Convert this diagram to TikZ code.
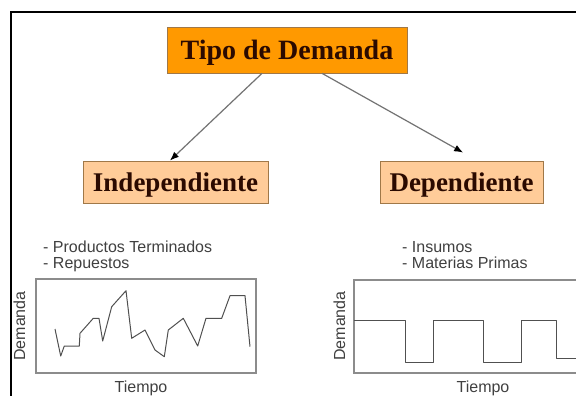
\documentclass[tikz,border=0pt]{standalone}
\usepackage{fontspec}
\setmainfont{Liberation Serif}
\setsansfont{Liberation Sans}
\usetikzlibrary{calc,arrows.meta}
\definecolor{naranja}{HTML}{FF9900}
\definecolor{durazno}{HTML}{FFCC99}
\definecolor{borde}{HTML}{A07848}
\definecolor{cafe}{HTML}{2B0A00}
\definecolor{marco}{HTML}{8C8C8C}
\definecolor{linea}{HTML}{505050}

\begin{document}
\begin{tikzpicture}[x=1pt,y=-1pt,
  caja/.style={draw=borde,line width=0.8pt,text=cafe,inner sep=0pt,
    font=\fontsize{27}{30}\selectfont\bfseries,text height=19pt,text depth=0pt,minimum height=42pt},
  flecha/.style={draw=black!55,line width=1.2pt,-{Latex[black,length=9pt,width=7pt]}},
  etiqueta/.style={font=\sffamily\fontsize{16}{18}\selectfont,text=black!75,inner sep=0pt,anchor=base west},
  eje/.style={font=\sffamily\fontsize{16}{18}\selectfont,text=black!75,inner sep=0pt,anchor=base},
  grafico/.style={draw=marco,line width=1.6pt},
  curva/.style={draw=linea,line width=1pt,line join=round}]
		\useasboundingbox (0,0) rectangle (576,396);
		\clip (0,0) rectangle (576,396);
		\fill[white] (0,0) rectangle (576,396);
		
		%%%%% MARCO %%%%%
		\draw[line width=2pt] (11,400) -- (11,12) -- (580,12);
		
		%%%%% CAJAS %%%%%
		\node[caja,fill=naranja,minimum width=240pt,minimum height=46pt,
		  font=\fontsize{28}{30}\selectfont\bfseries] (tipo) at (287,50) {Tipo de Demanda};
		\node[caja,fill=durazno,minimum width=185pt] (indep) at (175.5,182) {Independiente};
		\node[caja,fill=durazno,minimum width=163pt] (dep) at (461.5,182) {Dependiente};
		
		\draw[flecha] ($(tipo.south west)!0.396!(tipo.south east)$) -- ($(indep.north west)!0.47!(indep.north east)$);
		\draw[flecha] ($(tipo.south west)!0.646!(tipo.south east)$) -- ($(dep.north west)!0.51!(dep.north east)+(0,-8)$);
		
		%%%%% TEXTOS %%%%%
		\node[etiqueta] (prod) at (43,252) {- Productos Terminados};
		\node[etiqueta] (rep) at (43,268) {- Repuestos};
		\node[etiqueta] (ins) at (402,252) {- Insumos};
		\node[etiqueta] (mat) at (402,268) {- Materias Primas};
		
		%%%%% GRAFICO IZQUIERDO %%%%%
		\draw[grafico] (36,279) rectangle (256,373);
		\draw[curva] (55,329) -- (60.7,356) -- (64.3,346) -- (79.3,346) -- (80,333.3)
		  -- (93.3,318.3) -- (99,318.3) -- (102.7,341) -- (111.7,306.7) -- (126,290.7)
		  -- (131.7,338.3) -- (145,330) -- (155,350) -- (164.3,356.7) -- (168.3,330)
		  -- (183.3,318.3) -- (197.7,346) -- (206,318.3) -- (221.7,318.3) -- (230,295.7)
		  -- (245,295.7) -- (250,346.7);
		\node[eje,rotate=90] (demI) at (25,326) {Demanda};
		\node[eje] (tiemI) at (141,392) {Tiempo};
		
		%%%%% GRAFICO DERECHO %%%%%
		\draw[grafico] (354,280) rectangle (590,373);
		\draw[curva] (354,320) -- (405,320) -- (405,362) -- (433,362) -- (433,320)
		  -- (483,320) -- (483,362) -- (521,362) -- (521,320) -- (556,320)
		  -- (556,358) -- (590,358);
		\node[eje,rotate=90] (demD) at (345,326) {Demanda};
		\node[eje] (tiemD) at (483,392) {Tiempo};
		
		%%%%% FIN %%%%%
\end{tikzpicture}
\end{document}
